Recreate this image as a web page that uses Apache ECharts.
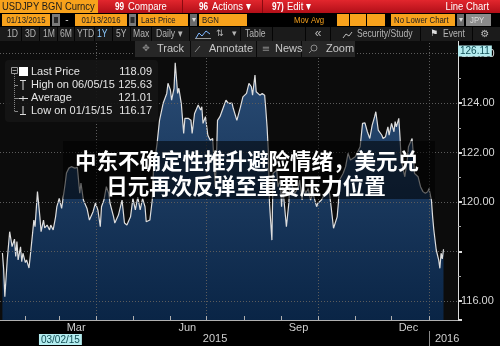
<!DOCTYPE html>
<html><head><meta charset="utf-8">
<script src="https://cdn.jsdelivr.net/npm/echarts@6/dist/echarts.min.js"></script>
<style>html,body{margin:0;padding:0;background:#000;}#c{width:500px;height:346px;}</style>
</head><body><div id="c"></div>
<script>
// ---------- data ----------
const startDate = '2015-01-11';
const endDate = '2016-01-25';
const dates = [
'2015-01-13','2015-01-14','2015-01-15','2015-01-17','2015-01-19','2015-01-21','2015-01-23','2015-01-24','2015-01-25','2015-01-26','2015-01-28','2015-01-29','2015-01-30',
'2015-02-01','2015-02-02','2015-02-04','2015-02-05','2015-02-07','2015-02-08','2015-02-09','2015-02-11','2015-02-13','2015-02-14','2015-02-16','2015-02-17','2015-02-19','2015-02-21','2015-02-22','2015-02-24','2015-02-26','2015-02-27',
'2015-03-01','2015-03-03','2015-03-04','2015-03-06','2015-03-07','2015-03-09','2015-03-11','2015-03-14','2015-03-16','2015-03-18','2015-03-19','2015-03-21','2015-03-24','2015-03-26','2015-03-29','2015-03-31',
'2015-04-02','2015-04-04','2015-04-05','2015-04-07','2015-04-09','2015-04-11','2015-04-12','2015-04-15','2015-04-16','2015-04-19','2015-04-22','2015-04-24','2015-04-26','2015-04-29',
'2015-05-01','2015-05-03','2015-05-05','2015-05-07','2015-05-09','2015-05-11','2015-05-12','2015-05-15','2015-05-17','2015-05-18','2015-05-21','2015-05-23','2015-05-26','2015-05-29','2015-05-30',
'2015-06-01','2015-06-02','2015-06-04','2015-06-05','2015-06-07','2015-06-08','2015-06-10','2015-06-12','2015-06-13','2015-06-16','2015-06-18','2015-06-19','2015-06-21','2015-06-24','2015-06-26','2015-06-27','2015-06-28','2015-06-30',
'2015-07-02','2015-07-04','2015-07-06','2015-07-07','2015-07-08','2015-07-09','2015-07-10','2015-07-12','2015-07-15','2015-07-17','2015-07-19','2015-07-22','2015-07-23','2015-07-26','2015-07-29','2015-07-31',
'2015-08-03','2015-08-05','2015-08-07','2015-08-08','2015-08-10','2015-08-11','2015-08-14','2015-08-16','2015-08-18','2015-08-19','2015-08-20','2015-08-21','2015-08-22','2015-08-24','2015-08-25','2015-08-28','2015-08-29','2015-08-31',
'2015-09-01','2015-09-02','2015-09-05','2015-09-07','2015-09-08','2015-09-10','2015-09-12','2015-09-15','2015-09-16','2015-09-18','2015-09-19','2015-09-21','2015-09-23','2015-09-25','2015-09-27','2015-09-30',
'2015-10-01','2015-10-04','2015-10-07','2015-10-10','2015-10-12','2015-10-14','2015-10-17','2015-10-18','2015-10-19','2015-10-22','2015-10-24','2015-10-26','2015-10-28',
'2015-11-01','2015-11-05','2015-11-07','2015-11-09','2015-11-11','2015-11-13','2015-11-15','2015-11-17','2015-11-18','2015-11-20','2015-11-21','2015-11-23','2015-11-24','2015-11-26','2015-11-28','2015-11-29',
'2015-12-01','2015-12-03','2015-12-04','2015-12-05','2015-12-07','2015-12-08','2015-12-09','2015-12-12','2015-12-14','2015-12-15','2015-12-18','2015-12-19','2015-12-20','2015-12-23','2015-12-25','2015-12-27','2015-12-29','2015-12-31',
'2016-01-01','2016-01-03','2016-01-04','2016-01-05','2016-01-07','2016-01-09','2016-01-10','2016-01-11','2016-01-12','2016-01-13'
];
const prices = [
117.94,117.3,116.17,117.66,118.8,118.2,118.5,117.8,118.4,117.66,118.19,117.59,117.93,
117.55,117.66,117.33,117.79,118.75,119.27,119.0,120.42,119.4,118.8,119.27,118.95,119.07,118.87,119.07,118.87,119.4,119.8,
120.15,119.74,119.81,120.77,121.17,121.37,121.43,121.37,121.4,120.36,120.77,120.08,119.74,119.27,119.61,119.96,
119.68,119.0,119.81,120.08,120.62,120.35,119.96,119.4,119.15,119.47,120.08,119.15,119.07,119.4,
120.15,119.68,120.2,119.68,120.15,119.81,119.2,119.27,120.08,121.3,122.37,123.3,123.99,124.39,124.8,
124.53,124.12,124.59,125.63,124.39,124.6,123.99,122.77,123.38,123.38,123.31,122.77,123.58,123.92,123.72,123.85,123.18,123.45,
122.7,122.5,122.57,121.7,120.6,121.6,123.3,123.45,123.85,124.12,123.99,124.0,123.79,123.3,123.85,124.25,
124.39,124.8,124.66,124.32,125.13,124.46,124.32,124.39,124.32,123.72,123.04,122.1,119.95,118.46,121.16,121.29,120.62,120.89,
119.81,120.62,119.0,119.95,120.89,120.62,120.35,120.62,120.89,120.08,120.62,120.35,120.55,120.08,120.35,119.81,
119.95,120.08,120.35,120.62,119.81,118.94,119.4,119.95,120.89,121.16,121.43,121.97,121.7,
121.83,122.23,123.18,123.2,122.84,122.57,123.11,123.45,123.65,122.91,122.84,122.7,122.57,122.64,123.04,122.7,
123.18,122.84,123.25,123.04,123.38,122.64,121.7,121.02,121.7,122.23,122.57,121.97,121.16,121.02,120.62,120.42,120.35,120.42,
120.55,120.08,119.4,118.87,118.06,117.66,117.32,117.93,117.7,118.09
];
const monthLabels = {'2015-03-15':'Mar','2015-06-15':'Jun','2015-09-15':'Sep','2015-12-15':'Dec'};
const yearLabels = {'2015-07-08':'2015','2016-01-16':'2016'};
const quarterStarts = ['04-01','07-01','10-01','01-01'];
const yearBreak = '2016-01-01';
const yMin = 115.23, yMax = 126.55;
const lastPrice = 118.09;
const cursorPrice = 126.11;
const cursorDate = '2015-03-02';
const cursorDateLabel = '03/02/15';
const legendNames = ['Last Price','High on 06/05/15','Average','Low on 01/15/15'];
const legendValues = ['118.09','125.63','121.01','116.17'];
const headline = ['中东不确定性推升避险情绪，美元兑','日元再次反弹至重要压力位置'];

// ---------- axis categories (every calendar day) ----------
function fmt(d){return d.toISOString().slice(0,10);}
const cats = [];
for (let d = new Date(startDate+'T00:00:00Z'); fmt(d) <= endDate; d.setUTCDate(d.getUTCDate()+1)) cats.push(fmt(d));
const idx = {}; cats.forEach((c,i)=>idx[c]=i);
const seriesData = dates.map((d,i)=>[idx[d], prices[i]]);

// ---------- decorations ----------
const FONT = '"Liberation Sans", Arial, sans-serif';
const NX = 0.82; // horizontal squeeze for the terminal's condensed font
const G = [];
function R(x,y,w,h,fill,r,stroke){G.push({type:'rect',z:100,shape:{x:x,y:y,width:w,height:h,r:r||0},style:{fill:fill,stroke:stroke||null,lineWidth:1}});}
function T(x,y,text,fill,size,align,weight,family,sx){G.push({type:'text',z:102,x:x,y:y,scaleX:sx||1,style:{text:text,fill:fill,font:(weight||'normal')+' '+size+'px '+(family||FONT),align:align||'left',verticalAlign:'middle',textAlign:align||'left',textVerticalAlign:'middle'}});}
function N(x,y,text,fill,size,align,weight){T(x,y,text,fill,size,align,weight,FONT,NX);}
function L(x1,y1,x2,y2,stroke,w,dash){G.push({type:'line',z:101,shape:{x1:x1,y1:y1,x2:x2,y2:y2},style:{stroke:stroke,lineWidth:w||1,lineDash:dash||null}});}
const ORANGE = '#f8a21c';
// row 1
R(0,0,98,13,ORANGE);
N(2,7,'USDJPY BGN Curncy','#1a1a1a',11.5);
R(98,0,402,13,{type:'linear',x:0,y:0,x2:0,y2:1,colorStops:[{offset:0,color:'#e2262d'},{offset:1,color:'#b20f18'}]});
L(182.5,0,182.5,13,'#8a0a10',1); L(262.5,0,262.5,13,'#8a0a10',1);
N(115,7,'99','#fff',10,'left','bold'); N(128,7,'Compare','#fff',11.5);
N(199,7,'96','#fff',10,'left','bold'); N(212,7,'Actions ▾','#fff',11.5);
N(272,7,'97)','#fff',10,'left','bold'); N(287,7,'Edit ▾','#fff',11.5);
N(489,7,'Line Chart','#fff',11.5,'right');
// row 2
R(0,13,500,14,'#000');
R(2,14,48,12,ORANGE); N(26,20,'01/13/2015','#222',9.5,'center');
R(52,14,8,12,'#7a7a7a'); R(54,17,4,6,'#2a2a2a');
T(67,20,'-','#ccc',10,'center');
R(75,14,52,12,ORANGE); N(101,20,'01/13/2016','#222',9.5,'center');
R(129,14,7,12,'#7a7a7a'); R(130.5,17,4,6,'#2a2a2a');
R(138,14,50,12,ORANGE); N(141,20,'Last Price','#222',9.5);
R(190,14,7,12,'#6a6a6a'); T(193.5,20,'▾','#ddd',8,'center');
R(199,14,48,12,ORANGE); N(202,20,'BGN','#222',9.5);
N(294,20,'Mov Avg',ORANGE,9.5);
R(337,14,48,12,ORANGE); L(349.5,14,349.5,26,'#000',1); L(366.5,14,366.5,26,'#000',1);
R(391,14,64,12,ORANGE); N(394,20,'No Lower Chart','#222',9.5);
R(457,14,7,12,'#6a6a6a'); T(460.5,20,'▾','#ddd',8,'center');
R(466,14,25,12,'#8a8a8a'); N(470,20,'JPY','#ddd',9.5);
// row 3
R(0,27,500,14,'#1b1b1b');
[21.5,39.5,57.5,74.5,94.5,112.5,130.5,151.5,189.5,240.5,272.5,305.5,330.5,420.5,472.5].forEach(x=>L(x,27,x,41,'#050505',1));
[[7,'1D'],[25,'3D'],[43,'1M'],[60,'6M'],[77,'YTD'],[116,'5Y'],[133,'Max'],[156,'Daily ▾'],[245,'Table']].forEach(a=>N(a[0],34,a[1],'#b4b4b4',10.5));
N(97,34,'1Y','#8ccaff',10.5);
G.push({type:'polyline',z:102,shape:{points:[[196,38],[199,33],[202,36],[206,31],[210,34]]},style:{stroke:'#7fb7ff',fill:null,lineWidth:1}});
L(195,38.5,211,38.5,'#999',1);
T(216,34,'⇅','#b4b4b4',9,'left','normal','"DejaVu Sans"');
T(232,34,'▾','#b4b4b4',9);
T(318,34,'«','#b4b4b4',12,'center');
G.push({type:'polyline',z:102,shape:{points:[[343,38],[346,34],[349,36],[352,32]]},style:{stroke:'#bbb',fill:null,lineWidth:1}});
N(357,34,'Security/Study','#b4b4b4',10.5);
T(430,34,'⚑','#ddd',9,'left','normal','"DejaVu Sans"');
N(443,34,'Event','#b4b4b4',10.5);
T(485,34,'⚙','#bbb',10,'center','normal','"DejaVu Sans"');
// row 4 buttons
R(135,41,220,16,'#272727');
[190.5,256.5,301.5].forEach(x=>L(x,41,x,57,'#0a0a0a',1));
T(146,49,'✥','#8a8a8a',9,'center','normal','"DejaVu Sans"'); T(157,49,'Track','#c8c8c8',11);
L(195,52,200,46,'#8a8a8a',1); T(209,49,'Annotate','#c8c8c8',11);
T(266,49,'≡','#8a8a8a',10,'center','normal','"DejaVu Sans"'); T(275,49,'News','#c8c8c8',11);
G.push({type:'circle',z:102,shape:{cx:314,cy:48,r:3},style:{stroke:'#8a8a8a',fill:null,lineWidth:1}});
L(311.5,50.5,309,53,'#8a8a8a',1); T(326,49,'Zoom','#c8c8c8',11);
// legend box
R(5,60,153,62,'rgba(22,22,22,0.92)',4);
R(11.5,67.5,6,6,null,0,'#999'); L(12.5,70.5,16.5,70.5,'#999',1);
L(14.5,74,14.5,111,'#888',1,[1,1]);
[85,98,111].forEach(y=>L(14.5,y+0.5,18,y+0.5,'#888',1));
R(19,67,9,9,'#fff');
L(20,80.5,26,80.5,'#ddd',1); L(23,80.5,23,90,'#ddd',1);
L(18.5,98.5,28,98.5,'#ddd',1); L(23,96,23,101,'#ddd',1);
L(23,106,23,114.5,'#ddd',1); L(20,114.5,26,114.5,'#ddd',1);
[72,85,98,111].forEach((y,i)=>{T(31,y,legendNames[i],'#e4e4e4',11); T(152,y,legendValues[i],'#e4e4e4',11,'right');});
// headline overlay
R(63,141,372,58,'rgba(0,0,0,0.55)');
T(247,161,headline[0],'#fff',21.5,'center','bold','"Noto Sans CJK SC"');
T(246,186,headline[1],'#fff',21.5,'center','bold','"Noto Sans CJK SC"');

// ---------- chart ----------
const chart = echarts.init(document.getElementById('c'), null, {renderer:'canvas'});
const dotted = {color:'#5c5c5c', type:[1,2], width:1};
const cyanLabel = {backgroundColor:'#b4ecef', color:'#124e55', padding:[1,2,0,2], fontSize:10, fontFamily:'Liberation Sans'};
chart.setOption({
  animation:false,
  backgroundColor:'#000',
  grid:{left:0, right:42, top:40, bottom:26, show:true, backgroundColor:'#0c0c0c', borderWidth:0},
  xAxis:[{
    type:'category', data:cats, boundaryGap:false, z:5,
    axisLine:{show:true, lineStyle:{color:'#b0b0b0', width:1}},
    axisTick:{show:true, inside:true, length:4, interval:(i,v)=>v.slice(8)==='01', lineStyle:{color:'#b0b0b0'}},
    axisLabel:{interval:(i,v)=>!!monthLabels[v], formatter:v=>monthLabels[v]||'', color:'#cfcfcf', fontSize:11, fontFamily:'Liberation Sans', margin:2},
    splitLine:{show:true, interval:(i,v)=>quarterStarts.includes(v.slice(5)), lineStyle:dotted}
  },{
    type:'category', data:cats, boundaryGap:false, position:'bottom', offset:11,
    axisLine:{show:false},
    axisTick:{show:true, length:16, interval:(i,v)=>v===yearBreak, lineStyle:{color:'#8a8a8a'}},
    axisLabel:{interval:(i,v)=>!!yearLabels[v], formatter:v=>yearLabels[v]||'', color:'#cfcfcf', fontSize:11, fontFamily:'Liberation Sans', margin:2},
    splitLine:{show:false}
  }],
  yAxis:{
    type:'value', position:'right', min:yMin, max:yMax, splitNumber:5, z:5,
    axisLine:{show:true, lineStyle:{color:'#dcdcdc'}},
    axisTick:{show:true, length:4, lineStyle:{color:'#dcdcdc', width:2}},
    minorTick:{show:true, splitNumber:2, length:3, lineStyle:{color:'#aaa'}},
    axisLabel:{color:'#d8d8d8', fontSize:11, fontFamily:'Liberation Sans', margin:3,
      formatter:v=>{const r=Math.round(v); return (Math.abs(v-r)<1e-6 && r%2===0 && r!==118) ? r.toFixed(2) : '';}},
    splitLine:{show:true, lineStyle:dotted}
  },
  series:[{
    type:'line', xAxisIndex:0, data:seriesData, symbol:'none', showSymbol:false, z:3,
    lineStyle:{color:'#dedede', width:1.2},
    areaStyle:{color:{type:'linear',x:0,y:0,x2:0,y2:1,colorStops:[{offset:0,color:'#2a4c75'},{offset:1,color:'#0a2546'}]}, opacity:1},
    markLine:{silent:true, symbol:'none', animation:false, z:10, data:[
      {yAxis:lastPrice, lineStyle:{opacity:0}, label:{position:'end', formatter:lastPrice.toFixed(2), backgroundColor:'#f4f4f4', color:'#000', padding:[1,3,0,3], fontSize:11, fontFamily:'Liberation Sans', distance:3}}
    ]},
    markPoint:{silent:true, animation:false, z:10, symbol:'circle', symbolSize:0, data:[
      {coord:[cats.length-1, cursorPrice], label:Object.assign({show:true, position:'right', distance:0, formatter:cursorPrice.toFixed(2)}, cyanLabel)},
      {coord:[idx[cursorDate], yMin], label:Object.assign({show:true, position:'bottom', distance:14, formatter:cursorDateLabel}, cyanLabel)}
    ]}
  }],
  graphic:G
});
</script></body></html>
